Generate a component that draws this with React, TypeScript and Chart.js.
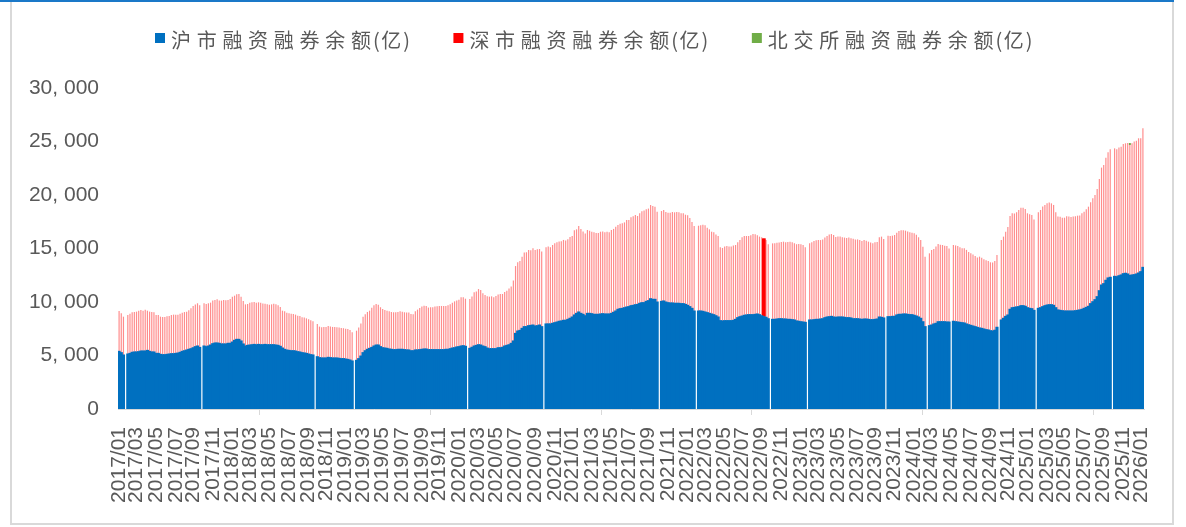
import React, { useEffect, useRef } from 'react';
import { Chart, registerables } from 'chart.js';

Chart.register(...registerables);

// ---- data (weekly, from the week ending 2017-01-06) ----
const FIRST_WEEK_UTC = Date.UTC(2017, 0, 6);

const shValues: (number | null)[] = [
  5390, 5270, 5050, null, 5140, 5200, 5300, 5330, 5330, 5360,
  5420, 5420, 5420, 5480, 5390, 5330, 5330, 5200, 5200, 5110,
  5080, 5080, 5110, 5140, 5170, 5170, 5200, 5230, 5300, 5390,
  5450, 5510, 5580, 5640, 5730, 5830, 5890, 5760, null, 5890,
  5830, 5890, 5980, 6110, 6170, 6170, 6140, 6080, 6080, 6080,
  6140, 6140, 6260, 6420, 6510, 6510, 6360, 6080, 5890, 5950,
  5980, 6010, 6040, 6010, 6040, 6010, 6010, 6040, 6010, 6010,
  6010, 6010, 5980, 5950, 5860, 5700, 5580, 5510, 5480, 5450,
  5450, 5420, 5360, 5330, 5270, 5240, 5200, 5140, 5080, 5050,
  null, 4890, 4800, 4770, 4770, 4770, 4830, 4800, 4770, 4770,
  4770, 4740, 4710, 4710, 4670, 4640, 4580, 4490, null, 4550,
  4710, 4950, 5270, 5450, 5580, 5670, 5760, 5890, 5980, 5980,
  5830, 5730, 5700, 5670, 5610, 5580, 5550, 5550, 5580, 5580,
  5580, 5550, 5520, 5520, 5450, 5450, 5520, 5520, 5550, 5580,
  5610, 5610, 5550, 5550, 5550, 5550, 5550, 5550, 5550, 5550,
  5580, 5580, 5640, 5700, 5730, 5800, 5830, 5890, 5920, 5860,
  null, 5670, 5770, 5890, 5950, 6010, 5980, 5890, 5830, 5700,
  5640, 5640, 5640, 5640, 5730, 5730, 5770, 5890, 5950, 6010,
  6140, 6360, 7070, 7290, 7350, 7540, 7700, 7700, 7790, 7820,
  7850, 7760, 7790, 7850, 7700, null, 7950, 7950, 7950, 8010,
  8070, 8130, 8200, 8230, 8290, 8290, 8380, 8480, 8600, 8790,
  8940, 9070, 8940, 8850, 8720, 8940, 8940, 8910, 8850, 8850,
  8850, 8880, 8910, 8880, 8880, 8880, 8940, 9040, 9160, 9320,
  9380, 9410, 9470, 9530, 9570, 9660, 9690, 9750, 9780, 9880,
  9940, 9940, 10060, 10130, 10310, 10250, 10250, 10000, null, 10060,
  10100, 10000, 9940, 9910, 9910, 9880, 9880, 9880, 9850, 9850,
  9780, 9690, 9570, 9410, 9160, null, 9160, 9160, 9130, 9070,
  9010, 8940, 8880, 8820, 8720, 8600, 8260, 8230, 8260, 8260,
  8260, 8260, 8290, 8380, 8540, 8630, 8690, 8760, 8790, 8820,
  8820, 8820, 8850, 8880, 8820, 8720, 8630, 8570, 8440, null,
  8380, 8380, 8410, 8440, 8440, 8410, 8410, 8380, 8380, 8350,
  8320, 8230, 8200, 8160, 8130, 8100, null, 8320, 8320, 8350,
  8380, 8380, 8410, 8440, 8540, 8600, 8630, 8660, 8600, 8570,
  8600, 8600, 8600, 8570, 8540, 8540, 8510, 8440, 8440, 8440,
  8410, 8380, 8410, 8410, 8380, 8350, 8350, 8380, 8410, 8600,
  8570, 8510, null, 8630, 8630, 8660, 8660, 8790, 8850, 8850,
  8880, 8880, 8850, 8820, 8820, 8760, 8690, 8600, 8480, 8160,
  7700, null, 7790, 7850, 7950, 8010, 8160, 8160, 8160, 8160,
  8130, 8130, null, 8200, 8160, 8130, 8100, 8070, 8040, 7950,
  7880, 7820, 7760, 7700, 7630, 7570, 7540, 7480, 7420, 7390,
  7320, 7290, 7360, 7640, null, 8320, 8480, 8660, 8790, 9320,
  9470, 9500, 9540, 9570, 9660, 9660, 9600, 9470, 9410, 9380,
  9220, null, 9410, 9470, 9570, 9660, 9720, 9750, 9750, 9690,
  9470, 9260, 9220, 9190, 9160, 9160, 9160, 9160, 9160, 9190,
  9220, 9260, 9320, 9410, 9500, 9600, 9850, 10030, 10220, 10500,
  11060, 11590, 11720, 12030, 12250, 12310, null, 12400, 12370, 12460,
  12530, 12650, 12680, 12620, 12490, 12530, 12560, 12620, 12710, 12840,
  13240,
];

const szValues: (number | null)[] = [
  3770, 3680, 3580, null, 3650, 3710, 3740, 3740, 3770, 3830,
  3830, 3770, 3860, 3710, 3710, 3740, 3710, 3580, 3580, 3520,
  3520, 3520, 3550, 3550, 3610, 3650, 3610, 3580, 3610, 3610,
  3610, 3580, 3650, 3770, 3890, 3930, 3990, 3930, null, 3990,
  3990, 3990, 3960, 4020, 4020, 4080, 3990, 4050, 4110, 4080,
  4050, 4140, 4240, 4170, 4210, 4240, 4140, 4020, 3890, 3860,
  3960, 3960, 3960, 3930, 3930, 3930, 3860, 3800, 3770, 3740,
  3770, 3830, 3800, 3740, 3680, 3490, 3550, 3490, 3460, 3460,
  3430, 3400, 3360, 3360, 3300, 3300, 3270, 3240, 3210, 3150,
  null, 3050, 2900, 2870, 2900, 2900, 2930, 2900, 2900, 2900,
  2870, 2870, 2870, 2840, 2840, 2840, 2800, 2680, null, 2770,
  2900, 3050, 3360, 3400, 3490, 3520, 3710, 3800, 3830, 3770,
  3680, 3610, 3550, 3520, 3520, 3490, 3490, 3490, 3490, 3550,
  3520, 3490, 3490, 3490, 3430, 3400, 3610, 3770, 3890, 3990,
  4050, 4020, 3930, 3960, 3960, 4020, 4050, 4080, 4080, 4080,
  4050, 4110, 4140, 4240, 4330, 4330, 4390, 4550, 4520, 4450,
  null, 4610, 4740, 5020, 5020, 5200, 5140, 4920, 4830, 4830,
  4860, 4890, 4800, 4920, 4980, 5020, 4980, 5050, 5110, 5260,
  5300, 5640, 6290, 6420, 6480, 6700, 6920, 6950, 7070, 7010,
  7170, 7100, 7130, 7100, 7010, null, 7170, 7230, 7170, 7320,
  7410, 7450, 7450, 7450, 7510, 7450, 7480, 7600, 7570, 7910,
  7850, 8040, 7880, 7730, 7690, 7790, 7730, 7660, 7660, 7600,
  7600, 7690, 7690, 7630, 7690, 7630, 7790, 7790, 7880, 7880,
  7940, 7940, 7970, 8130, 8100, 8260, 8320, 8380, 8260, 8410,
  8540, 8600, 8600, 8600, 8750, 8720, 8660, 8440, null, 8440,
  8500, 8410, 8410, 8440, 8500, 8500, 8540, 8500, 8440, 8440,
  8380, 8410, 8290, 8070, 7940, null, 7970, 8010, 8100, 8100,
  7940, 7850, 7690, 7690, 7600, 7570, 6850, 6820, 6920, 6980,
  6920, 6920, 6980, 6950, 7040, 7170, 7350, 7410, 7380, 7350,
  7410, 7540, 7480, 7350, 7290, 7320, 7320, 7230, 6950, null,
  7100, 7100, 7130, 7130, 7170, 7230, 7170, 7230, 7260, 7230,
  7170, 7170, 7230, 7230, 7200, 7010, null, 7170, 7260, 7350,
  7380, 7410, 7380, 7410, 7480, 7570, 7690, 7690, 7660, 7510,
  7510, 7510, 7450, 7450, 7450, 7480, 7450, 7480, 7410, 7410,
  7380, 7320, 7380, 7320, 7260, 7200, 7130, 7200, 7200, 7450,
  7540, 7380, null, 7570, 7540, 7540, 7600, 7690, 7790, 7850,
  7820, 7790, 7730, 7690, 7660, 7660, 7600, 7450, 7320, 7010,
  6540, null, 6760, 7010, 7010, 7170, 7260, 7200, 7170, 7100,
  7100, 6880, null, 7130, 7130, 7100, 7010, 6950, 6980, 6920,
  6790, 6730, 6670, 6600, 6540, 6670, 6600, 6510, 6480, 6450,
  6390, 6390, 6480, 6760, null, 7480, 7630, 7910, 8220, 8720,
  8820, 8780, 8850, 9030, 9160, 9160, 9100, 8820, 8780, 8750,
  8500, null, 8970, 9130, 9350, 9410, 9500, 9560, 9470, 9380,
  8910, 8720, 8750, 8690, 8720, 8850, 8820, 8780, 8820, 8820,
  8850, 8820, 8970, 9030, 9160, 9310, 9470, 9660, 9780, 10060,
  10440, 10970, 11090, 11460, 11740, 11960, null, 11960, 11900, 11990,
  11990, 12120, 12150, 12240, 12180, 12300, 12430, 12460, 12590, 12460,
  12990,
];

// 北交所: only visible at one week in the picture
const bjPoints: [number, number][] = [[464, 70]];
// the one 深市 bar drawn in full red
const highlightWeeks: number[] = [296];

const seriesNames = ['沪市融资融券余额(亿)', '深市融资融券余额(亿)', '北交所融资融券余额(亿)'];
const seriesColors = ['#0070C0', '#FF0000', '#70AD47'];

const yTicks = { min: 0, max: 30000, step: 5000 };

// ---- helpers ----
const weekDate = (i: number) => new Date(FIRST_WEEK_UTC + i * 7 * 86400000);
const weekLabels = shValues.map((_, i) => {
  const d = weekDate(i);
  return `${d.getUTCFullYear()}/${String(d.getUTCMonth() + 1).padStart(2, '0')}`;
});
const isLabelWeek = (i: number) => {
  if (i == null || i < 0 || i >= weekLabels.length) return false;
  const d = weekDate(i);
  return d.getUTCDate() <= 7 && d.getUTCMonth() % 2 === 0;
};

const TEXT = '#595959';
const NUM_FONT = '"Liberation Sans", Arial, sans-serif';
const CJK_FONT = '"Noto Sans CJK SC", "Noto Sans", sans-serif';

const isWide = (ch: string) => !!ch && ch.charCodeAt(0) > 255;

const legendPlugin = {
  id: 'cjkLegend',
  afterDraw(chart: any) {
    const ctx = chart.ctx as CanvasRenderingContext2D;
    ctx.save();
    ctx.font = `20px ${CJK_FONT}`;
    ctx.textBaseline = 'middle';
    let x = 155;
    const cy = 40;
    seriesNames.forEach((name, k) => {
      ctx.fillStyle = seriesColors[k];
      ctx.fillRect(x, 33, 10, 10);
      x += 16;
      ctx.fillStyle = TEXT;
      const chars = Array.from(name);
      chars.forEach((ch, j) => {
        ctx.fillText(ch, x, cy);
        const next = chars[j + 1];
        const gap = isWide(ch) ? (next && !isWide(next) ? 2 : 5.7) : 1.5;
        x += ctx.measureText(ch).width + gap;
      });
      x += 42;
    });
    ctx.restore();
  },
};

export default function App() {
  const ref = useRef<HTMLCanvasElement>(null);

  useEffect(() => {
    const bjData = shValues.map(() => null as number | null);
    bjPoints.forEach(([i, v]) => { bjData[i] = v; });
    const hlData = shValues.map((v, i) =>
      highlightWeeks.includes(i) && v != null && szValues[i] != null
        ? [v, v + (szValues[i] as number)]
        : null
    );

    const chart = new Chart(ref.current as HTMLCanvasElement, {
      type: 'bar',
      data: {
        labels: weekLabels,
        datasets: [
          {
            label: seriesNames[0],
            data: shValues,
            backgroundColor: seriesColors[0],
            borderWidth: 0,
            categoryPercentage: 1,
            barPercentage: 1,
            inflateAmount: 0.5,
          } as any,
          {
            label: seriesNames[1],
            data: szValues,
            backgroundColor: 'rgba(255,0,0,0.45)',
            borderWidth: 0,
            categoryPercentage: 1,
            barPercentage: 0.55,
            inflateAmount: 0,
          },
          {
            label: seriesNames[2],
            data: bjData,
            backgroundColor: seriesColors[2],
            borderWidth: 0,
            categoryPercentage: 1,
            barPercentage: 0.9,
            minBarLength: 2,
            inflateAmount: 0,
          },
          {
            label: seriesNames[1] + ' ',
            data: hlData,
            backgroundColor: seriesColors[1],
            borderWidth: 0,
            categoryPercentage: 1,
            barPercentage: 1.7,
            grouped: false,
            stack: 'hl',
            inflateAmount: 0,
          } as any,
        ],
      },
      options: {
        animation: false,
        responsive: false,
        devicePixelRatio: 1,
        events: [],
        layout: { padding: { top: 88, left: 0, right: 42, bottom: 0 } },
        plugins: {
          legend: { display: false },
          tooltip: { enabled: false },
          title: { display: false },
        },
        scales: {
          x: {
            stacked: true,
            offset: true,
            grid: {
              display: true,
              drawOnChartArea: false,
              drawTicks: true,
              tickLength: 6,
              offset: true,
              color: (c: any) => (isLabelWeek(c.index) ? '#D9D9D9' : 'rgba(0,0,0,0)'),
            },
            border: { display: true, color: '#D9D9D9', width: 1 },
            ticks: {
              autoSkip: false,
              minRotation: 90,
              maxRotation: 90,
              padding: 12,
              color: TEXT,
              font: { family: NUM_FONT, size: 21 },
              callback: (_v: any, i: number) => (isLabelWeek(i) ? weekLabels[i] : null),
            },
            afterFit: (s: any) => { s.height = 118; },
          },
          y: {
            stacked: true,
            min: yTicks.min,
            max: yTicks.max,
            grid: { display: false, drawTicks: false },
            border: { display: false },
            ticks: {
              stepSize: yTicks.step,
              padding: 19,
              color: TEXT,
              font: { family: NUM_FONT, size: 21 },
              callback: (v: any) => (Number(v) === 0 ? '0' : Number(v).toLocaleString('en-US').replace(',', ', ')),
            },
            afterFit: (s: any) => { s.width = 118; },
          },
        },
      },
      plugins: [legendPlugin],
    } as any);

    return () => chart.destroy();
  }, []);

  return (
    <div style={{ position: 'fixed', left: 0, top: 0, width: 1186, height: 527, background: '#ffffff', overflow: 'hidden' }}>
      <div style={{ position: 'absolute', left: 0, top: 0, width: 1174, height: 2, background: '#1A78C8' }} />
      <div
        style={{
          position: 'absolute', left: 10, top: 2, width: 1164, height: 523, boxSizing: 'border-box',
          borderLeft: '2px solid #D9D9D9', borderRight: '2px solid #D9D9D9', borderBottom: '2px solid #D9D9D9',
        }}
      />
      <canvas ref={ref} width={1186} height={527} style={{ position: 'absolute', left: 0, top: 0, width: 1186, height: 527 }} />
    </div>
  );
}
